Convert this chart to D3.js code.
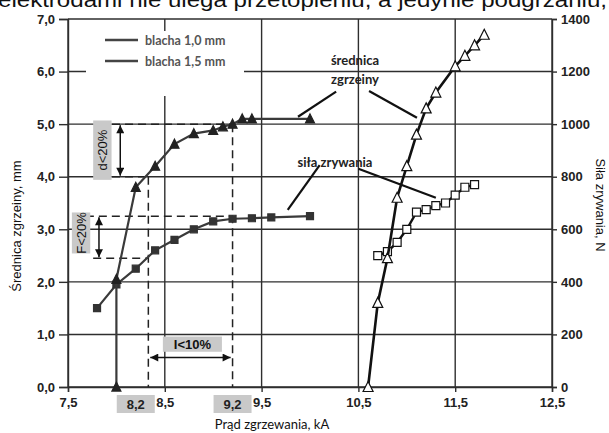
<!DOCTYPE html>
<html>
<head>
<meta charset="utf-8">
<script src="https://cdn.jsdelivr.net/npm/d3@7"></script>
<style>
  html, body { margin: 0; padding: 0; background: #fff; }
  svg { display: block; }
</style>
</head>
<body>
<svg id="chart" width="609" height="433"></svg>
<script>
// axis ticks
const xTicks = [7.5, 8.5, 9.5, 10.5, 11.5, 12.5];
const yLeftTicks = [0, 1, 2, 3, 4, 5, 6, 7];
const yRightTicks = [0, 200, 400, 600, 800, 1000, 1200, 1400];
const markedCurrents = [8.2, 9.2];

// blacha 1,0 mm - diameter (mm) and shear force (N)
const thinDiamCurrent = [8.0, 8.0, 8.2, 8.4, 8.6, 8.8, 9.0, 9.1, 9.2, 9.3, 9.4, 10.0];
const thinDiameter = [0, 2.05, 3.8, 4.2, 4.62, 4.82, 4.88, 4.95, 5.0, 5.1, 5.1, 5.1];
const thinForceCurrent = [7.8, 8.0, 8.2, 8.4, 8.6, 8.8, 9.0, 9.2, 9.4, 9.6, 10.0];
const thinForce = [300, 390, 450, 520, 560, 600, 630, 640, 642, 645, 650];

// blacha 1,5 mm
const thickDiamCurrent = [10.6, 10.7, 10.8, 10.9, 11.0, 11.1, 11.2, 11.3, 11.5, 11.6, 11.7, 11.8];
const thickDiameter = [0, 1.6, 2.45, 3.6, 4.2, 4.8, 5.3, 5.6, 6.1, 6.3, 6.5, 6.7];
const thickForceCurrent = [10.7, 10.8, 10.9, 11.0, 11.1, 11.2, 11.3, 11.4, 11.5, 11.6, 11.7];
const thickForce = [500, 515, 550, 600, 665, 675, 690, 700, 730, 760, 770];

const legendLabels = ['blacha 1,0 mm', 'blacha 1,5 mm'];

const svg = d3.select('#chart');
const plot = {left: 68, right: 552, top: 19, bottom: 387};

const x = d3.scaleLinear().domain([7.5, 12.5]).range([plot.left, plot.right]);
const yL = d3.scaleLinear().domain([0, 7]).range([plot.bottom, plot.top]);
const yR = d3.scaleLinear().domain([0, 1400]).range([plot.bottom, plot.top]);

const comma = d => d3.format('.1f')(d).replace('.', ',');
const gridColor = '#2e2e2e';

// caption cut at the top
svg.append('text')
  .attr('x', -2).attr('y', 7)
  .attr('textLength', 609).attr('lengthAdjust', 'spacingAndGlyphs')
  .style('font', '20px "Liberation Sans", Arial, sans-serif')
  .style('fill', '#111')
  .text('elektrodami nie ulega przetopieniu, a jedynie podgrzaniu,');

// grid
const grid = svg.append('g').attr('stroke', gridColor).attr('stroke-width', 1.4);
yLeftTicks.forEach(v => {
  grid.append('line').attr('x1', plot.left).attr('x2', plot.right).attr('y1', yL(v)).attr('y2', yL(v));
});
xTicks.forEach(v => {
  grid.append('line').attr('x1', x(v)).attr('x2', x(v)).attr('y1', plot.top).attr('y2', plot.bottom);
});

// axes
const tickText = sel => sel.selectAll('text')
  .style('font', 'bold 13px "Liberation Sans", Arial, sans-serif')
  .style('fill', '#222');

svg.append('g')
  .attr('transform', `translate(${plot.left},0)`)
  .call(d3.axisLeft(yL).tickValues(yLeftTicks).tickFormat(comma).tickSize(9).tickPadding(4))
  .call(g => g.select('.domain').attr('stroke', gridColor).attr('stroke-width', 1.4))
  .call(g => g.selectAll('.tick line').attr('stroke', gridColor).attr('stroke-width', 1.4))
  .call(tickText);

svg.append('g')
  .attr('transform', `translate(${plot.right},0)`)
  .call(d3.axisRight(yR).tickValues(yRightTicks).tickFormat(d3.format('d')).tickSize(5).tickPadding(4))
  .call(g => g.select('.domain').attr('stroke', gridColor).attr('stroke-width', 1.4))
  .call(g => g.selectAll('.tick line').attr('stroke', gridColor).attr('stroke-width', 1.4))
  .call(tickText);

svg.append('g')
  .attr('transform', `translate(0,${plot.bottom})`)
  .call(d3.axisBottom(x).tickValues(xTicks).tickFormat(comma).tickSize(5).tickPadding(6))
  .call(g => g.select('.domain').attr('stroke', gridColor).attr('stroke-width', 1.4))
  .call(g => g.selectAll('.tick line').attr('stroke', gridColor).attr('stroke-width', 1.4))
  .call(tickText);

// marked current labels in grey boxes
markedCurrents.forEach(v => {
  svg.append('rect')
    .attr('x', x(v) - 19).attr('y', 395).attr('width', 38).attr('height', 18)
    .attr('fill', '#c9c9c9');
  svg.append('text')
    .attr('x', x(v)).attr('y', 409).attr('text-anchor', 'middle')
    .style('font', 'bold 13px "Liberation Sans", Arial, sans-serif')
    .style('fill', '#222')
    .text(comma(v));
});

// axis titles
svg.append('text')
  .attr('x', 272).attr('y', 429).attr('text-anchor', 'middle')
  .style('font', '13px Lato, sans-serif').style('fill', '#111')
  .text('Prąd zgrzewania, kA');
svg.append('text')
  .attr('transform', 'translate(21,226) rotate(-90)').attr('text-anchor', 'middle')
  .style('font', '13px "Liberation Sans", Arial, sans-serif').style('fill', '#111')
  .text('Średnica zgrzeiny, mm');
svg.append('text')
  .attr('transform', 'translate(596,205) rotate(90)').attr('text-anchor', 'middle')
  .style('font', '13px "Liberation Sans", Arial, sans-serif').style('fill', '#111')
  .text('Siła zrywania, N');

// legend (white box hides the grid)
svg.append('rect').attr('x', 86).attr('y', 31).attr('width', 158).attr('height', 65).attr('fill', '#fff');
legendLabels.forEach((t, i) => {
  const ly = 40 + i * 21;
  svg.append('line').attr('x1', 105).attr('x2', 138).attr('y1', ly).attr('y2', ly)
    .attr('stroke', '#444').attr('stroke-width', 2.5);
  svg.append('text').attr('x', 145).attr('y', ly + 4.5)
    .style('font', 'bold 12.5px Lato, sans-serif').style('fill', '#555')
    .text(t);
});

// dashed guide lines
const dash = svg.append('g').attr('stroke', '#222').attr('stroke-width', 1.5)
  .attr('stroke-dasharray', '8,5').attr('fill', 'none');
const dl = (x1, y1, x2, y2) => dash.append('line')
  .attr('x1', x(x1)).attr('y1', yL(y1)).attr('x2', x(x2)).attr('y2', yL(y2));
dl(7.955, 5.0, 9.2, 5.0);
dl(7.955, 4.0, 8.33, 4.0);
dl(8.33, 4.0, 8.33, 0);
dl(9.2, 5.0, 9.2, 0);
dl(7.55, 3.25, 9.2, 3.25);
dl(7.76, 2.45, 8.33, 2.45);

// grey annotation boxes
const annBox = (x1, y1, x2, y2, label, rotate) => {
  svg.append('rect')
    .attr('x', x(x1)).attr('y', yL(y1))
    .attr('width', x(x2) - x(x1)).attr('height', yL(y2) - yL(y1))
    .attr('fill', '#c9c9c9');
  const cx = (x(x1) + x(x2)) / 2, cy = (yL(y1) + yL(y2)) / 2;
  svg.append('text')
    .attr('transform', `translate(${cx},${cy})` + (rotate ? ' rotate(-90)' : ''))
    .attr('text-anchor', 'middle').attr('dy', '0.36em')
    .style('font', (rotate ? '' : 'bold ') + '13px "Liberation Sans", Arial, sans-serif')
    .style('fill', '#111')
    .text(label);
};
annBox(7.76, 5.07, 7.95, 3.94, 'd<20%', true);
annBox(7.54, 3.32, 7.73, 2.54, 'F<20%', true);
annBox(8.48, 0.96, 9.09, 0.67, 'I<10%', false);

// double arrows
const defs = svg.append('defs');
defs.append('marker').attr('id', 'ah')
  .attr('viewBox', '0 0 10 10').attr('refX', 10).attr('refY', 5)
  .attr('markerWidth', 10).attr('markerHeight', 8).attr('markerUnits', 'userSpaceOnUse')
  .attr('orient', 'auto-start-reverse')
  .append('path').attr('d', 'M0,0L10,5L0,10Z').attr('fill', '#111');
const arrow = (x1, y1, x2, y2) => svg.append('line')
  .attr('x1', x(x1)).attr('y1', yL(y1)).attr('x2', x(x2)).attr('y2', yL(y2))
  .attr('stroke', '#111').attr('stroke-width', 1.5)
  .attr('marker-start', 'url(#ah)').attr('marker-end', 'url(#ah)');
arrow(8.04, 4.98, 8.04, 4.02);
arrow(7.82, 3.23, 7.82, 2.47);
arrow(8.35, 0.56, 9.18, 0.56);

// callout lines
const callout = (x1, y1, x2, y2) => svg.append('line')
  .attr('x1', x(x1)).attr('y1', yL(y1)).attr('x2', x(x2)).attr('y2', yL(y2))
  .attr('stroke', '#111').attr('stroke-width', 2.2);
callout(10.27, 5.62, 9.876, 5.14);
callout(10.61, 5.63, 11.105, 5.12);
callout(10.10, 4.22, 9.77, 3.37);
callout(10.50, 4.15, 11.30, 3.60);

const noteFont = 'bold 13px Lato, sans-serif';
svg.append('text').attr('x', 355).attr('y', 65).attr('text-anchor', 'middle')
  .style('font', noteFont).style('fill', '#222').text('średnica');
svg.append('text').attr('x', 355).attr('y', 84).attr('text-anchor', 'middle')
  .style('font', noteFont).style('fill', '#222').text('zgrzeiny');
svg.append('text').attr('x', 335).attr('y', 167).attr('text-anchor', 'middle')
  .style('font', noteFont).style('fill', '#222').text('siła zrywania');

// series
const tri = s => `M0,${-s * 0.55}L${s / 2},${s * 0.45}L${-s / 2},${s * 0.45}Z`;
const sq = s => `M${-s / 2},${-s / 2}h${s}v${s}h${-s}Z`;

const drawSeries = (xs, ys, yScale, color, width, shape, fill) => {
  const pts = xs.map((v, i) => [x(v), yScale(ys[i])]);
  svg.append('path')
    .attr('d', d3.line()(pts))
    .attr('fill', 'none').attr('stroke', color).attr('stroke-width', width);
  svg.append('g').selectAll('path')
    .data(pts).enter().append('path')
    .attr('transform', d => `translate(${d[0]},${d[1]})`)
    .attr('d', shape)
    .attr('fill', fill).attr('stroke', fill === '#fff' ? '#111' : fill)
    .attr('stroke-width', 1.2);
};

drawSeries(thinForceCurrent, thinForce, yR, '#3a3a3a', 2.2, sq(7), '#333');
drawSeries(thinDiamCurrent, thinDiameter, yL, '#3a3a3a', 2.2, tri(9), '#222');
drawSeries(thickForceCurrent, thickForce, yR, '#111', 2.4, sq(8), '#fff');
drawSeries(thickDiamCurrent, thickDiameter, yL, '#111', 2.6, tri(10), '#fff');
</script>
</body>
</html>
